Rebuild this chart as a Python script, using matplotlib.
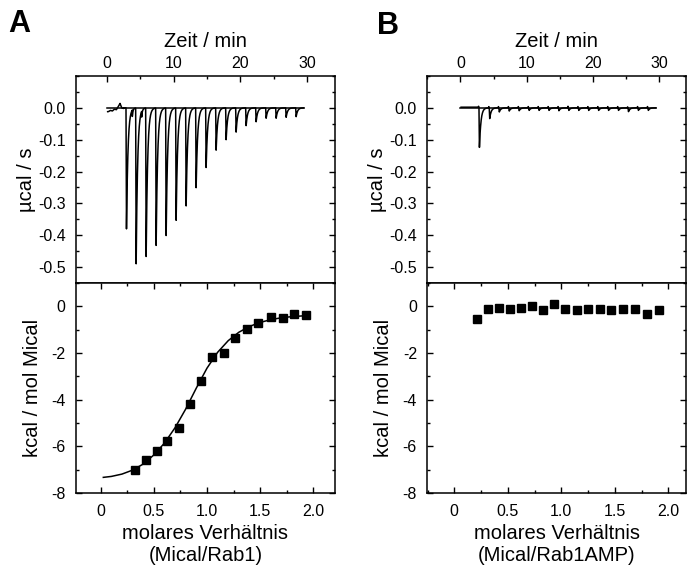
import numpy as np
import matplotlib
matplotlib.use("Agg")
import matplotlib.pyplot as plt
from matplotlib.ticker import MultipleLocator

plt.rcParams['font.family'] = ['Liberation Sans', 'DejaVu Sans']

# ---------------- data ----------------
# Panel A raw thermogram: injection times (min) and peak heights (ucal/s)
inj_times_A = [2.85, 4.3, 5.8, 7.3, 8.8, 10.3, 11.8, 13.3, 14.8, 16.3,
               17.8, 19.3, 20.8, 22.3, 23.8, 25.3, 26.8, 28.3]
peak_A = [-0.385, -0.497, -0.473, -0.437, -0.405, -0.356, -0.310, -0.252,
          -0.188, -0.133, -0.100, -0.076, -0.056, -0.044, -0.033, -0.033,
          -0.030, -0.028]
noise_t_A = [0.2, 0.5, 0.8, 1.1, 1.4, 1.7, 1.95, 2.2, 2.5]
noise_v_A = [-0.012, -0.008, -0.010, -0.004, -0.006, 0.004, 0.014, 0.0, -0.002]
mini_t_A = [3.8, 5.2]
mini_v_A = [-0.02, -0.018]

# Panel B raw thermogram
inj_times_B = [2.8, 4.35, 5.8, 7.3, 8.8, 10.3, 11.8, 13.3, 14.8, 16.3,
               17.8, 19.3, 20.8, 22.3, 23.8, 25.3, 26.8, 28.3]
peak_B = [-0.128, -0.034, -0.013, -0.010, -0.009, -0.008, -0.008, -0.008,
          -0.009, -0.008, -0.008, -0.008, -0.008, -0.008, -0.008, -0.012,
          -0.008, -0.008]
spike_B = [0.003, 0.004, 0.004, 0.004, 0.004, 0.004, 0.004, 0.004, 0.004,
           0.005, 0.004, 0.004, 0.004, 0.004, 0.004, 0.003, 0.004, 0.004]
trace_end = 29.5

# Panel A integrated heats
ratio_A = [0.323, 0.423, 0.527, 0.627, 0.734, 0.837, 0.940, 1.047, 1.157,
           1.263, 1.373, 1.483, 1.599, 1.712, 1.821, 1.934]
heat_A = [-7.00, -6.59, -6.18, -5.75, -5.23, -4.17, -3.20, -2.18, -2.00,
          -1.35, -0.98, -0.73, -0.45, -0.50, -0.34, -0.39]
fit_x_A = [0.025, 0.1, 0.2, 0.3, 0.4, 0.5, 0.6, 0.7, 0.8, 0.9, 1.0, 1.1,
           1.2, 1.3, 1.4, 1.5, 1.6, 1.7, 1.8, 1.9, 1.95]
fit_y_A = [-7.33, -7.29, -7.19, -7.02, -6.76, -6.37, -5.86, -5.20, -4.40,
           -3.50, -2.65, -1.97, -1.47, -1.11, -0.86, -0.69, -0.57, -0.49,
           -0.44, -0.41, -0.40]

# Panel B integrated heats
ratio_B = [0.215, 0.318, 0.417, 0.520, 0.623, 0.723, 0.826, 0.928, 1.037,
           1.143, 1.249, 1.358, 1.464, 1.579, 1.688, 1.800, 1.913]
heat_B = [-0.53, -0.13, -0.07, -0.11, -0.06, 0.00, -0.17, 0.10, -0.10,
          -0.17, -0.10, -0.13, -0.17, -0.10, -0.10, -0.33, -0.16]

xlabel_top = "Zeit / min"
ylabel_top = "µcal / s"
ylabel_bot = "kcal / mol Mical"
xlabel_A = "molares Verhältnis\n(Mical/Rab1)"
xlabel_B = "molares Verhältnis\n(Mical/Rab1AMP)"

LABEL_FS = 14.5
TICK_FS = 11.5


def thermogram(times, depths, spikes=None, minis_t=(), minis_v=(), noise_t=(), noise_v=()):
    t = np.linspace(0.1, trace_end, 6000)
    y = np.zeros_like(t)
    fall, tau = 0.07, 0.22
    for i, (t0, d) in enumerate(zip(times, depths)):
        m1 = (t >= t0) & (t < t0 + fall)
        y[m1] += d * (t[m1] - t0) / fall
        m2 = t >= t0 + fall
        y[m2] += d * np.exp(-(t[m2] - t0 - fall) / tau)
        if spikes is not None:
            ms = (t >= t0 - 0.12) & (t < t0)
            y[ms] += spikes[i] * (1 - np.abs(t[ms] - (t0 - 0.06)) / 0.06)
    for t0, d in zip(minis_t, minis_v):
        m = (t >= t0) & (t < t0 + 0.4)
        y[m] += d * np.exp(-(t[m] - t0) / 0.08)
    if len(noise_t):
        m = t < noise_t[-1]
        y[m] += np.interp(t[m], noise_t, noise_v)
    return t, y


def style(ax):
    ax.tick_params(direction='in', which='both', top=True, right=True,
                   labelsize=TICK_FS, width=1.0)
    ax.tick_params(which='major', length=4.5)
    ax.tick_params(which='minor', length=2.5)
    ax.tick_params(axis='y', which='both', pad=7.5)
    for s in ax.spines.values():
        s.set_linewidth(1.1)


fig = plt.figure(figsize=(6.87, 5.69), dpi=100)

W = 259 / 687
panels = [
    dict(left=76 / 687, tx=(-4.65, 34.2), bx=(-0.232, 2.204), times=inj_times_A,
         peaks=peak_A, ratio=ratio_A, heat=heat_A, xl=xlabel_A, letter='A',
         lx=8 / 687, ly=1 - 9 / 569),
    dict(left=427.3 / 687, tx=(-5.0, 34.1), bx=(-0.252, 2.168), times=inj_times_B,
         peaks=peak_B, ratio=ratio_B, heat=heat_B, xl=xlabel_B, letter='B',
         lx=377 / 687, ly=1 - 11 / 569),
]

for k, p in enumerate(panels):
    axt = fig.add_axes([p['left'], 1 - 283 / 569, W, 207 / 569])
    axb = fig.add_axes([p['left'], 1 - 493 / 569, W, 210 / 569])

    if k == 0:
        t, y = thermogram(p['times'], p['peaks'], minis_t=mini_t_A, minis_v=mini_v_A,
                          noise_t=noise_t_A, noise_v=noise_v_A)
    else:
        t, y = thermogram(p['times'], p['peaks'], spikes=spike_B)
        y = y + 0.002 * (t < 3)
    axt.plot(t, y, color='black', lw=1.1)
    axt.plot([0, trace_end], [0, 0], color='black', lw=1.1)
    axt.set_xlim(*p['tx'])
    axt.set_ylim(-0.55, 0.1)
    axt.xaxis.set_major_locator(MultipleLocator(10))
    axt.xaxis.set_minor_locator(MultipleLocator(5))
    axt.yaxis.set_major_locator(MultipleLocator(0.1))
    axt.yaxis.set_minor_locator(MultipleLocator(0.05))
    style(axt)
    axt.tick_params(axis='x', which='both', bottom=False, labelbottom=False,
                    labeltop=True)
    axt.set_yticks([0.0, -0.1, -0.2, -0.3, -0.4, -0.5])
    axt.set_yticklabels(['0.0', '-0.1', '-0.2', '-0.3', '-0.4', '-0.5'])
    axt.xaxis.set_label_position('top')
    axt.set_xlabel(xlabel_top, fontsize=LABEL_FS)
    axt.xaxis.set_label_coords(0.5, 1.141)
    axt.set_ylabel(ylabel_top, fontsize=LABEL_FS)
    axt.yaxis.set_label_coords(-0.154, 0.5)

    if k == 0:
        axb.plot(fit_x_A, fit_y_A, color='black', lw=1.1)
    axb.plot(p['ratio'], p['heat'], 's', color='black', markersize=5.5)
    axb.set_xlim(*p['bx'])
    axb.set_ylim(-8, 1)
    axb.xaxis.set_major_locator(MultipleLocator(0.5))
    axb.xaxis.set_minor_locator(MultipleLocator(0.25))
    axb.yaxis.set_major_locator(MultipleLocator(2))
    axb.yaxis.set_minor_locator(MultipleLocator(1))
    style(axb)
    axb.tick_params(axis='x', which='both', pad=8)
    axb.set_xticks([0, 0.5, 1.0, 1.5, 2.0])
    axb.set_xticklabels(['0', '0.5', '1.0', '1.5', '2.0'])
    axb.set_yticks([0, -2, -4, -6, -8])
    axb.set_yticklabels(['0', '-2', '-4', '-6', '-8'])
    axb.set_xlabel(p['xl'], fontsize=LABEL_FS, linespacing=1.25)
    axb.xaxis.set_label_coords(0.5, -0.146)
    axb.xaxis.label.set_va('top')
    axb.set_ylabel(ylabel_bot, fontsize=LABEL_FS)
    axb.yaxis.set_label_coords(-0.132, 0.5)

    fig.text(p['lx'], p['ly'], p['letter'], fontsize=22, fontweight='bold',
             va='top', ha='left')

fig.savefig('out.png', dpi=100)
